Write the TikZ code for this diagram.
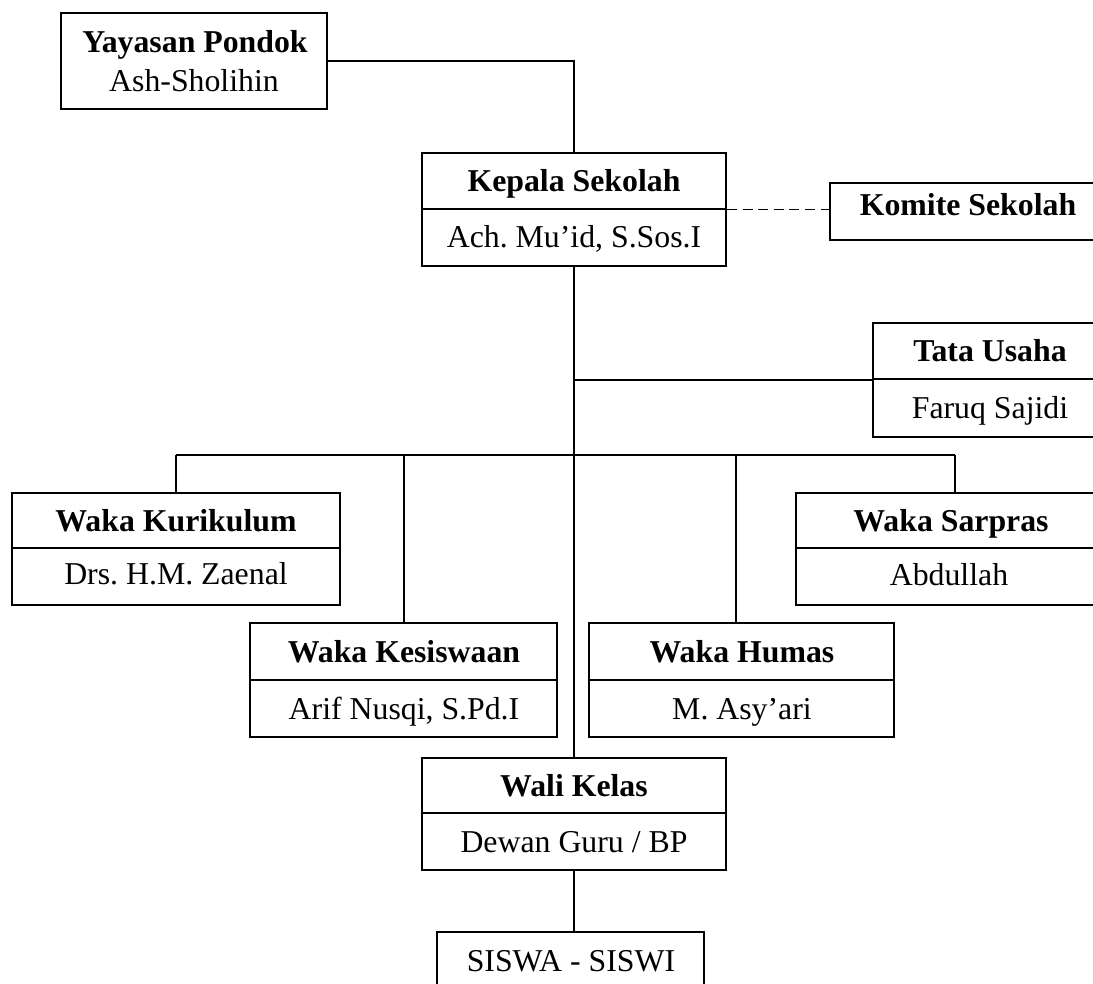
\documentclass[tikz,border=0pt]{standalone}
\usepackage{fontspec}
\setmainfont{Liberation Serif}
\usetikzlibrary{fit}
\frenchspacing
\tikzset{
  box/.style={draw, line width=0.9pt, inner sep=0pt, rectangle},
  divline/.style={line width=0.9pt},
  conn/.style={line width=0.9pt},
  dashconn/.style={line width=0.9pt, dash pattern=on 5pt off 2.8pt},
  ttl/.style={font=\fontsize{15.9}{18}\selectfont\bfseries, inner sep=0pt, text height=10.5pt, text depth=0pt},
  sub/.style={font=\fontsize{15.9}{18}\selectfont, inner sep=0pt, text height=10.5pt, text depth=0pt},
}
\begin{document}
\begin{tikzpicture}[x=0.5pt,y=-0.5pt]
\useasboundingbox (0,0) rectangle (1093,984);
\clip (0,0) rectangle (1093,984);

% boxes
\node[box, fit={(61,13) (327,109)}] (yay) {};
\node[ttl] (yayT) at (195,42.5) {Yayasan Pondok};
\node[sub] (yayS) at (194,81) {Ash-Sholihin};

\node[box, fit={(422,153) (726,266)}] (kep) {};
\draw[divline] (kep.west |- 0,209) -- (kep.east |- 0,209);
\node[ttl] (kepT) at (574,181) {Kepala Sekolah};
\node[sub] (kepS) at (574,237.5) {Ach. Mu’id, S.Sos.I};

\node[box, fit={(830,183) (1106,240)}] (kom) {};
\node[ttl] (komT) at (968,205) {Komite Sekolah};

\node[box, fit={(873,323) (1105,437)}] (tata) {};
\draw[divline] (tata.west |- 0,379) -- (tata.east |- 0,379);
\node[ttl] (tataT) at (990,351) {Tata Usaha};
\node[sub] (tataS) at (990,408) {Faruq Sajidi};

\node[box, fit={(12,493) (340,605)}] (kur) {};
\draw[divline] (kur.west |- 0,548) -- (kur.east |- 0,548);
\node[ttl] (kurT) at (176,520.5) {Waka Kurikulum};
\node[sub] (kurS) at (176,574) {Drs. H.M. Zaenal};

\node[box, fit={(796,493) (1106,605)}] (sar) {};
\draw[divline] (sar.west |- 0,548) -- (sar.east |- 0,548);
\node[ttl] (sarT) at (951,520.5) {Waka Sarpras};
\node[sub] (sarS) at (949,575) {Abdullah};

\node[box, fit={(250,623) (557,737)}] (kes) {};
\draw[divline] (kes.west |- 0,680) -- (kes.east |- 0,680);
\node[ttl] (kesT) at (404,651.5) {Waka Kesiswaan};
\node[sub] (kesS) at (404,708.5) {Arif Nusqi, S.Pd.I};

\node[box, fit={(589,623) (894,737)}] (hum) {};
\draw[divline] (hum.west |- 0,680) -- (hum.east |- 0,680);
\node[ttl] (humT) at (742,651.5) {Waka Humas};
\node[sub] (humS) at (742,708.5) {M. Asy’ari};

\node[box, fit={(422,758) (726,870)}] (wal) {};
\draw[divline] (wal.west |- 0,813) -- (wal.east |- 0,813);
\node[ttl] (walT) at (574,785.5) {Wali Kelas};
\node[sub] (walS) at (574,841.5) {Dewan Guru / BP};

\node[box, fit={(437,932) (704,1010)}] (sis) {};
\node[sub] (sisT) at (571,961) {SISWA - SISWI};

% connectors
\draw[conn] (yay.east) -| (kep.north);
\draw[dashconn] (kep.east) -- (kep.east -| kom.west);
\draw[conn] (kep.south) -- (wal.north);
\draw[conn] (tata.west) -- (tata.west -| kep.south);

\coordinate (j1) at (176,455);
\coordinate (j2) at (404,455);
\coordinate (j3) at (736,455);
\coordinate (j4) at (955,455);
\draw[conn] (j1) -- (j4);
\draw[conn] (j1) -- (j1 |- kur.north);
\draw[conn] (j2) -- (j2 |- kes.north);
\draw[conn] (j3) -- (j3 |- hum.north);
\draw[conn] (j4) -- (j4 |- sar.north);
\draw[conn] (wal.south) -- (wal.south |- sis.north);
\end{tikzpicture}
\end{document}
